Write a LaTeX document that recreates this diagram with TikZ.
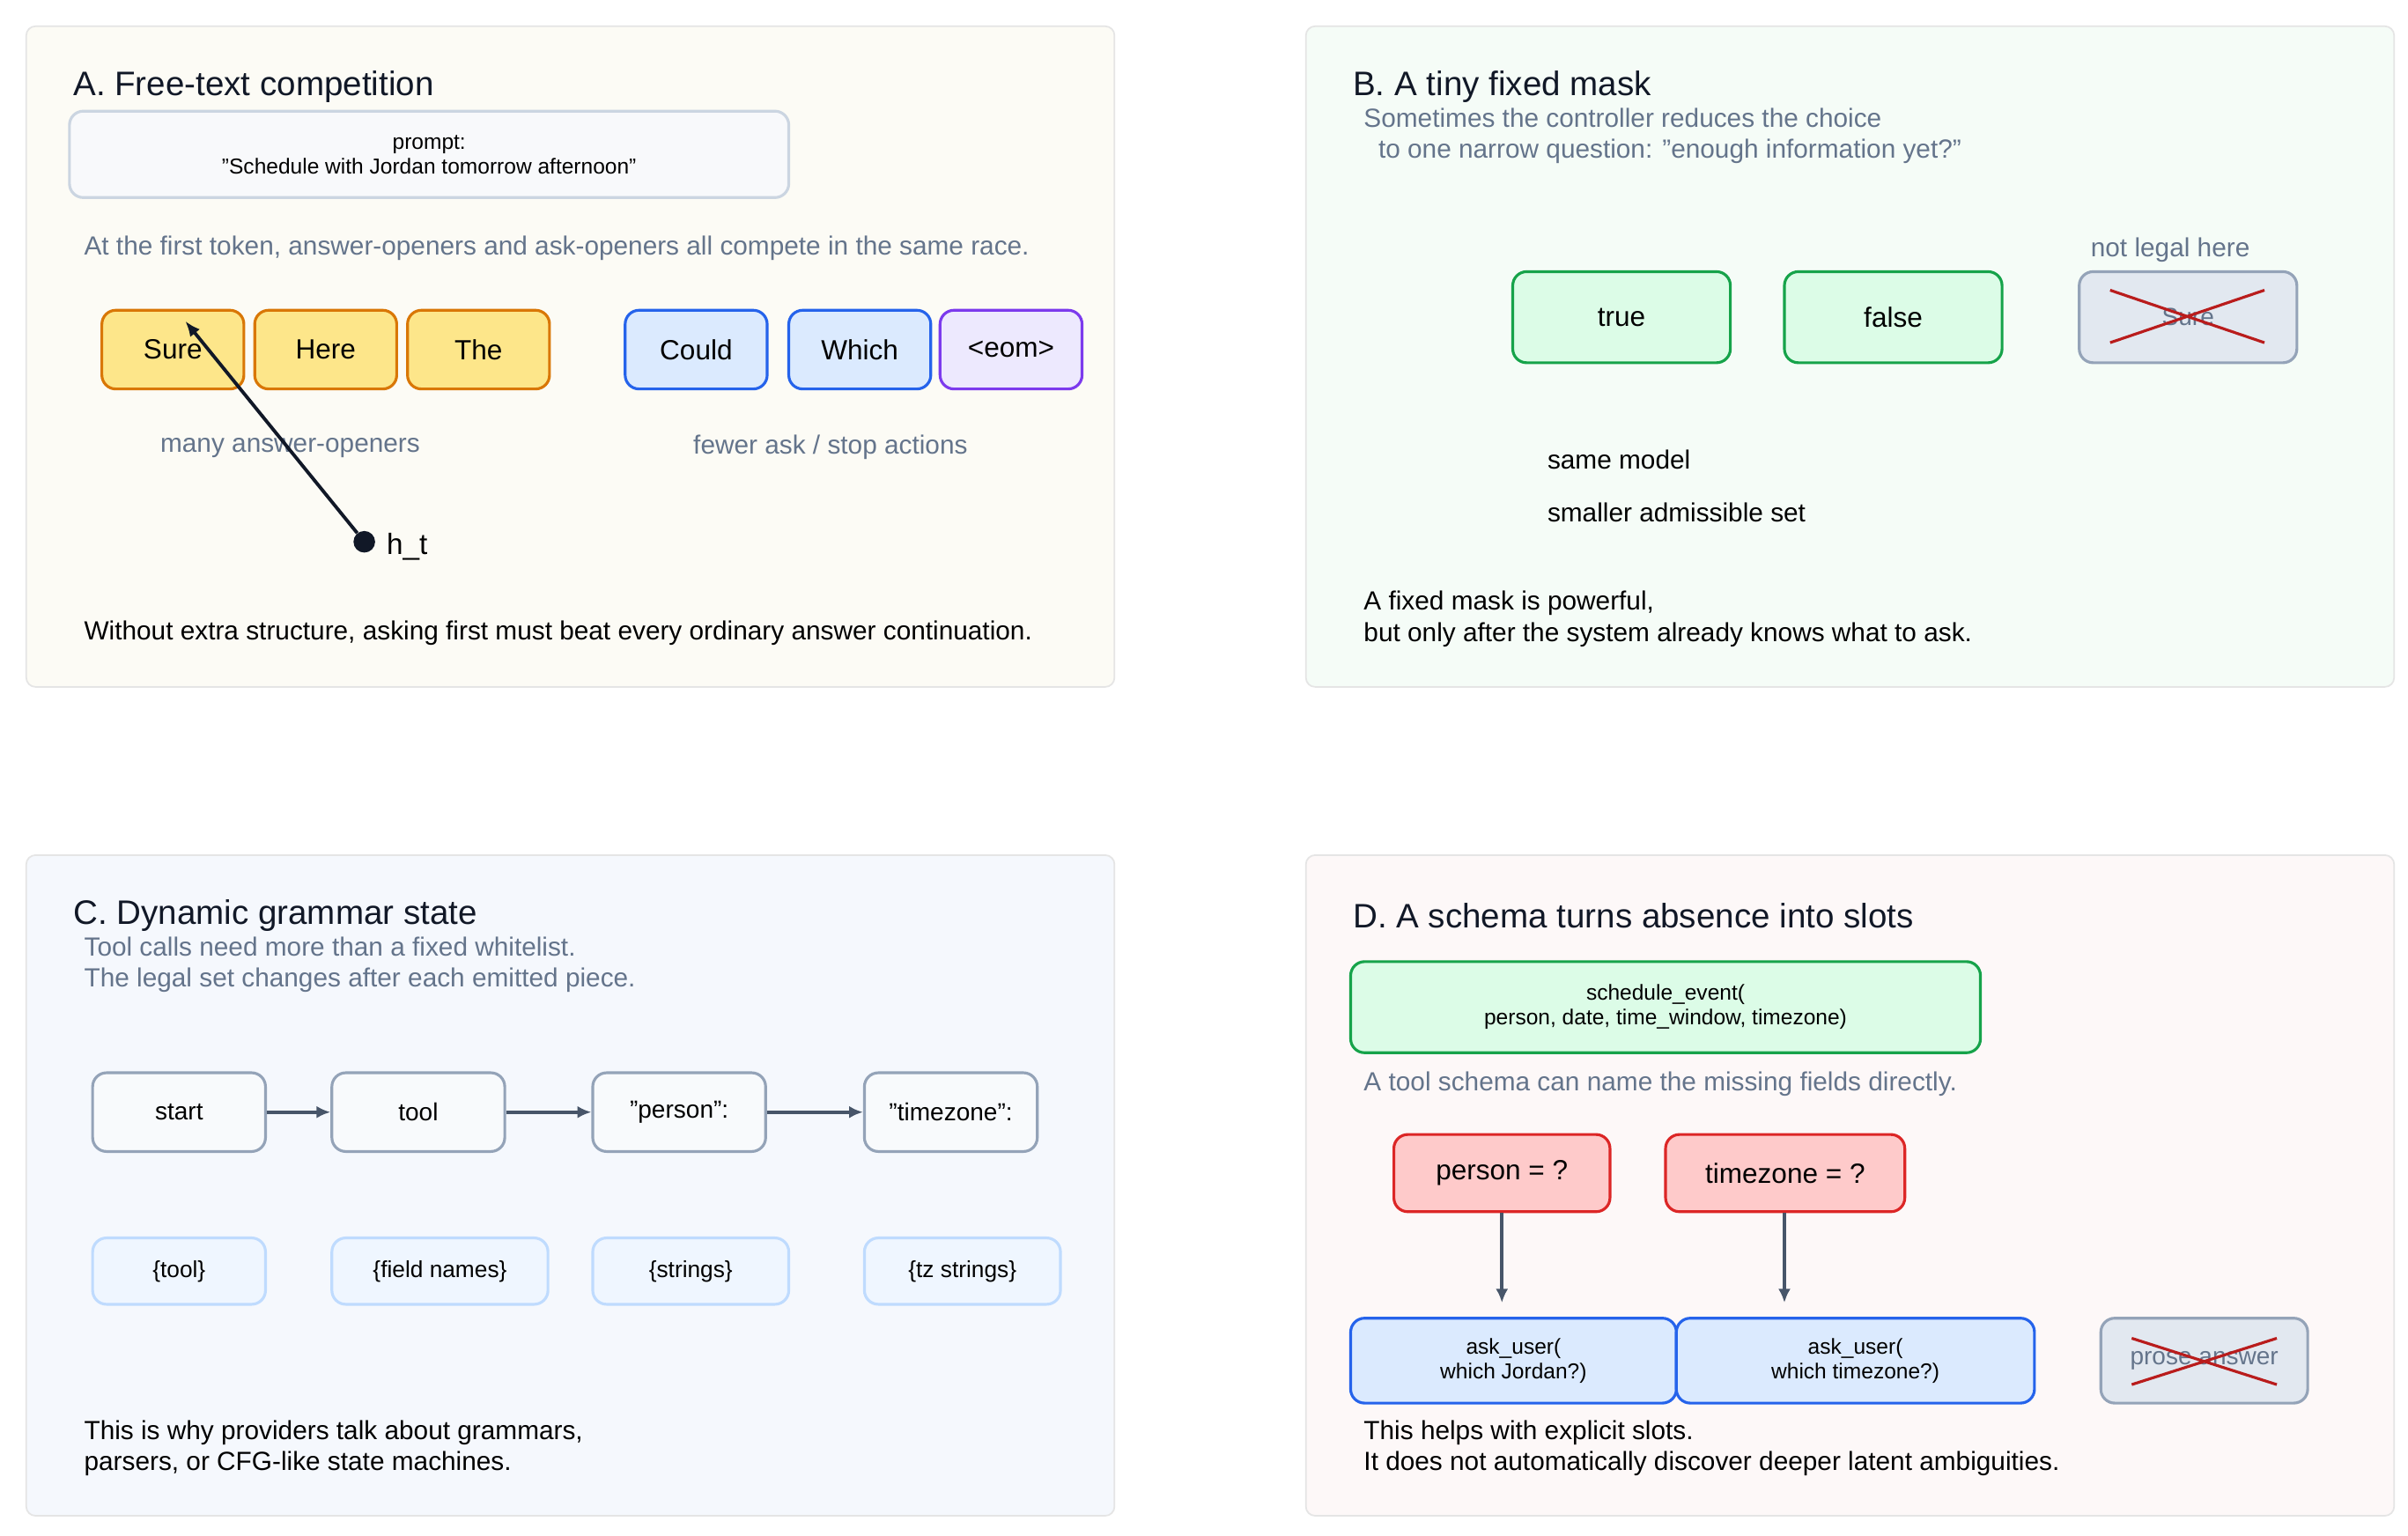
\documentclass[tikz,border=0pt]{standalone}
\usepackage{fontspec}
\setmainfont{Liberation Sans}
\usetikzlibrary{arrows.meta}
\definecolor{gtxt}{HTML}{64748B}
\definecolor{dark}{HTML}{111827}
\definecolor{arr}{HTML}{475569}
\begin{document}
\begin{tikzpicture}[x=1pt,y=-1pt,
 panel/.style={draw=gray!20,line width=1pt,rounded corners=6pt},
 ttl/.style={anchor=west,font=\fontsize{22}{26}\selectfont,text=dark},
 sub/.style={anchor=west,font=\fontsize{17}{20}\selectfont,text=gtxt},
 body/.style={anchor=west,font=\fontsize{17}{20}\selectfont,text=black},
 bx/.style={draw,line width=1.8pt,rounded corners=9pt,font=\fontsize{18}{21}\selectfont,align=center,inner sep=0pt},
 sm/.style={font=\fontsize{14}{16}\selectfont},
 yel/.style={bx,fill=yellow!45!orange!40,fill={rgb,255:red,253;green,230;blue,138},draw={rgb,255:red,217;green,119;blue,6}},
 blu/.style={bx,fill={rgb,255:red,219;green,234;blue,254},draw={rgb,255:red,37;green,99;blue,235}},
 pur/.style={bx,fill={rgb,255:red,237;green,233;blue,254},draw={rgb,255:red,124;green,58;blue,237}},
 grn/.style={bx,fill={rgb,255:red,220;green,252;blue,231},draw={rgb,255:red,22;green,163;blue,74}},
 gry/.style={bx,fill={rgb,255:red,226;green,232;blue,240},draw={rgb,255:red,148;green,163;blue,184},text=gtxt},
 red/.style={bx,fill={rgb,255:red,254;green,202;blue,202},draw={rgb,255:red,220;green,38;blue,38}},
 st/.style={bx,fill={rgb,255:red,248;green,250;blue,252},draw={rgb,255:red,148;green,163;blue,184},font=\fontsize{16}{19}\selectfont},
 lt/.style={bx,fill={rgb,255:red,239;green,246;blue,255},draw={rgb,255:red,191;green,219;blue,254},font=\fontsize{15}{18}\selectfont},
 cross/.style={draw={rgb,255:red,185;green,28;blue,28},line width=1.8pt},
 ar/.style={draw=arr,line width=2.2pt,-{Latex[length=9pt,width=8pt]}}
]
\useasboundingbox (0,0) rectangle (1560,995);
\fill[white] (0,0) rectangle (1560,995);
\definecolor{pa}{HTML}{FCFBF5}\definecolor{pb}{HTML}{F5FCF7}\definecolor{pc}{HTML}{F5F8FD}\definecolor{pd}{HTML}{FDF8F8}
\draw[panel,fill=pa] (17,17) rectangle (722,445);
\draw[panel,fill=pb] (846,17) rectangle (1551,445);
\draw[panel,fill=pc] (17,554) rectangle (722,982);
\draw[panel,fill=pd] (846,554) rectangle (1551,982);

% A
\node[ttl] (ta) at (44,56) {A. Free-text competition};
\node[bx,sm,fill={rgb,255:red,248;green,249;blue,251},draw={rgb,255:red,203;green,213;blue,225},minimum width=466pt,minimum height=56pt,font=\fontsize{14}{16}\selectfont] (prompt) at (278,100) {prompt:\\"Schedule with Jordan tomorrow afternoon"};
\node[sub] (a1) at (51,161) {At the first token, answer-openers and ask-openers all compete in the same race.};
\node[yel,minimum width=92pt,minimum height=51pt] (sure) at (112,226.5) {Sure};
\node[yel,minimum width=92pt,minimum height=51pt] (here) at (211,226.5) {Here};
\node[yel,minimum width=92pt,minimum height=51pt] (the) at (310,226.5) {The};
\node[blu,minimum width=92pt,minimum height=51pt] (could) at (451,226.5) {Could};
\node[blu,minimum width=92pt,minimum height=51pt] (which) at (557,226.5) {Which};
\node[pur,minimum width=92pt,minimum height=51pt] (eom) at (655,226.5) {<eom>};
\node[sub,anchor=center] (l1) at (188,290) {many answer-openers};
\node[sub,anchor=center] (l2) at (538,290) {fewer ask / stop actions};
\node[circle,fill=dark,inner sep=0pt,minimum size=14pt] (ht) at (236,351) {};
\node[body,font=\fontsize{19}{22}\selectfont] (htl) at (247,354) {h\_t};
\coordinate (tip) at (120,208);
\draw[draw=dark,line width=2.2pt,-{Latex[length=10pt,width=8pt]}] (ht) -- (tip);
\node[body] (a2) at (51,410) {Without extra structure, asking first must beat every ordinary answer continuation.};

% B
\node[ttl] (tb) at (873,56) {B. A tiny fixed mask};
\node[sub,align=left] (b1) at (880,88) {Sometimes the controller reduces the choice\\\ \ to one narrow question: "enough information yet?"};
\node[grn,minimum width=141pt,minimum height=59pt] (true) at (1050.5,205.5) {true};
\node[grn,minimum width=141pt,minimum height=59pt] (false) at (1226.5,205.5) {false};
\node[gry,minimum width=141pt,minimum height=59pt,font=\fontsize{16}{19}\selectfont] (bsure) at (1417.5,205.5) {Sure};
\draw[cross] (1367,188) -- (1467,222) (1367,222) -- (1467,188);
\node[sub,anchor=center] (nl) at (1406,162) {not legal here};
\node[body] (b2) at (999,298) {same model};
\node[body] (b3) at (999,332) {smaller admissible set};
\node[body,align=left] (b4) at (880,401) {A fixed mask is powerful,\\but only after the system already knows what to ask.};

% C
\node[ttl] (tc) at (44,593) {C. Dynamic grammar state};
\node[sub,align=left] (c1) at (51,625) {Tool calls need more than a fixed whitelist.\\The legal set changes after each emitted piece.};
\node[st,minimum width=112pt,minimum height=51pt] (start) at (116,720.5) {start};
\node[st,minimum width=112pt,minimum height=51pt] (tool) at (271,720.5) {tool};
\node[st,minimum width=112pt,minimum height=51pt] (person) at (440,720.5) {"person":};
\node[st,minimum width=112pt,minimum height=51pt] (tz) at (616,720.5) {"timezone":};
\draw[ar] (start) -- (tool);
\draw[ar] (tool) -- (person);
\draw[ar] (person) -- (tz);
\node[lt,minimum width=112pt,minimum height=43pt] (s1) at (116,823.5) {\{tool\}};
\node[lt,minimum width=140pt,minimum height=43pt] (s2) at (285,823.5) {\{field names\}};
\node[lt,minimum width=127pt,minimum height=43pt] (s3) at (447.5,823.5) {\{strings\}};
\node[lt,minimum width=127pt,minimum height=43pt] (s4) at (623.5,823.5) {\{tz strings\}};
\node[body,align=left] (c2) at (51,938) {This is why providers talk about grammars,\\parsers, or CFG-like state machines.};

% D
\node[ttl] (td) at (873,593) {D. A schema turns absence into slots};
\node[grn,minimum width=408pt,minimum height=59pt,font=\fontsize{14}{16}\selectfont] (sched) at (1079,652.5) {schedule\_event(\\person, date, time\_window, timezone)};
\node[sub] (d1) at (880,702) {A tool schema can name the missing fields directly.};
\node[red,minimum width=140pt,minimum height=50pt] (pq) at (973,760) {person = ?};
\node[red,minimum width=155pt,minimum height=50pt] (tq) at (1156.5,760) {timezone = ?};
\node[blu,minimum width=211pt,minimum height=55pt,font=\fontsize{14}{16}\selectfont] (ask1) at (980.5,881.5) {ask\_user(\\which Jordan?)};
\node[blu,minimum width=232pt,minimum height=55pt,font=\fontsize{14}{16}\selectfont] (ask2) at (1202,881.5) {ask\_user(\\which timezone?)};
\coordinate (e1) at (973,844);
\coordinate (e2) at (1156,844);
\draw[ar] (pq) -- (e1);
\draw[ar] (tq.south -| e2) -- (e2);
\node[gry,minimum width=134pt,minimum height=55pt,font=\fontsize{16}{19}\selectfont] (prose) at (1428,881.5) {prose answer};
\draw[cross] (1381,867) -- (1475,897) (1381,897) -- (1475,867);
\node[body,align=left] (d2) at (880,938) {This helps with explicit slots.\\It does not automatically discover deeper latent ambiguities.};
\end{tikzpicture}
\end{document}
